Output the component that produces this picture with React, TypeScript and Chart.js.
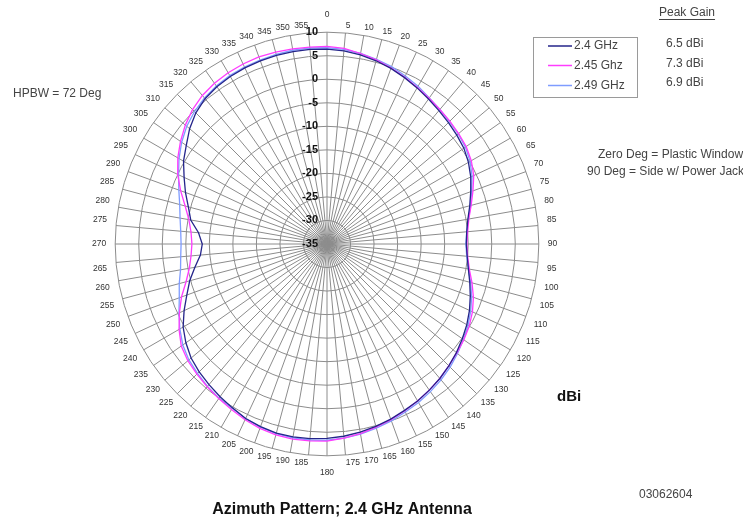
import { useEffect, useRef } from 'react';
import { Chart, registerables } from 'chart.js';

Chart.register(...registerables);

const FONT = '"Liberation Sans", Arial, sans-serif';

const angleLabels = [
  '0', '5', '10', '15', '20', '25', '30', '35', '40', '45', '50', '55',
  '60', '65', '70', '75', '80', '85', '90', '95', '100', '105', '110', '115',
  '120', '125', '130', '135', '140', '145', '150', '155', '160', '165', '170', '175',
  '180', '185', '190', '195', '200', '205', '210', '215', '220', '225', '230', '235',
  '240', '245', '250', '255', '260', '265', '270', '275', '280', '285', '290', '295',
  '300', '305', '310', '315', '320', '325', '330', '335', '340', '345', '350', '355',
];

const radialTicks = [-35, -30, -25, -20, -15, -10, -5, 0, 5, 10];

// 2.4 GHz
const gain24 = [
  6.4, 6.2, 5.8, 5.3, 4.7, 4.0, 3.3, 2.6, 2.0, 1.5, 1.0, 0.5,
  -0.3, -1.3, -2.5, -3.6, -4.6, -5.2, -5.4, -5.1, -4.5, -3.6, -2.6, -1.6,
  -0.7, 0.1, 0.9, 1.6, 2.3, 2.9, 3.5, 4.0, 4.6, 5.1, 5.6, 6.0,
  6.3, 6.5, 6.6, 6.6, 6.3, 5.9, 5.2, 4.6, 4.0, 3.4, 2.7, 1.6,
  0.3, -1.5, -3.3, -4.8, -6.5, -8.0, -8.5, -7.6, -5.6, -4.5, -3.0, -1.5,
  0.2, 1.5, 3.1, 4.4, 5.3, 5.8, 6.1, 6.3, 6.4, 6.5, 6.5, 6.5,
];

// 2.45 GHz
const gain245 = [
  7.0, 6.7, 6.1, 5.5, 4.8, 4.1, 3.4, 2.8, 2.3, 1.9, 1.5, 1.1,
  0.4, -0.6, -2.0, -3.3, -4.4, -5.0, -5.3, -5.0, -4.3, -3.1, -1.9, -0.9,
  -0.1, 0.5, 1.0, 1.6, 2.3, 2.9, 3.5, 4.1, 4.7, 5.3, 5.9, 6.4,
  6.9, 7.0, 7.1, 7.0, 6.7, 6.2, 5.6, 5.1, 4.6, 4.1, 3.6, 2.8,
  1.3, -0.4, -2.1, -4.0, -5.3, -6.0, -6.3, -6.0, -5.2, -3.8, -1.9, 0.0,
  1.6, 3.0, 4.3, 5.4, 6.2, 6.7, 7.0, 7.2, 7.3, 7.2, 7.1, 7.0,
];

// 2.49 GHz
const gain249 = [
  6.7, 6.5, 6.1, 5.6, 5.1, 4.4, 3.7, 2.9, 2.3, 1.8, 1.4, 0.9,
  0.1, -1.0, -2.3, -3.4, -4.5, -5.2, -5.5, -5.2, -4.5, -3.4, -2.3, -1.3,
  -0.4, 0.4, 1.2, 2.0, 2.7, 3.3, 3.9, 4.4, 5.0, 5.5, 6.0, 6.4,
  6.7, 6.8, 6.8, 6.7, 6.4, 5.9, 5.3, 5.0, 4.5, 3.9, 3.3, 2.4,
  1.1, -0.3, -1.6, -2.5, -3.4, -3.8, -4.0, -3.8, -3.3, -2.6, -1.5, -0.2,
  1.3, 2.7, 3.9, 4.8, 5.5, 6.0, 6.3, 6.5, 6.6, 6.7, 6.8, 6.8,
];

const seriesNames = ['2.4 GHz', '2.45 Ghz', '2.49 GHz'];
const seriesColors = ['#24248a', '#ff3cff', '#7f9cff'];
const peakGains = ['6.5 dBi', '7.3 dBi', '6.9 dBi'];

const annotationPlugin = {
  id: 'annotations',
  afterDraw(chart: any) {
    const ctx = chart.ctx as CanvasRenderingContext2D;
    const r = chart.scales.r;
    ctx.save();

    // radial tick labels, right-aligned just left of the 0 deg spoke
    ctx.fillStyle = '#111';
    ctx.font = `bold 11px ${FONT}`;
    ctx.textAlign = 'right';
    ctx.textBaseline = 'middle';
    for (const v of radialTicks) {
      const p = r.getPointPositionForValue(0, v);
      ctx.fillText(String(v), p.x - 9, p.y);
    }

    // legend box
    ctx.strokeStyle = '#9a9a9a';
    ctx.lineWidth = 1;
    ctx.strokeRect(533.5, 37.5, 104, 60);
    const rowsY = [46, 65.5, 85.5];
    ctx.font = `12px ${FONT}`;
    ctx.textAlign = 'left';
    chart.data.datasets.forEach((ds: any, i: number) => {
      ctx.strokeStyle = ds.borderColor;
      ctx.lineWidth = 1.5;
      ctx.beginPath();
      ctx.moveTo(548, rowsY[i]);
      ctx.lineTo(572, rowsY[i]);
      ctx.stroke();
      ctx.fillStyle = '#444';
      ctx.fillText(ds.label, 574, rowsY[i]);
    });

    // peak gain
    ctx.fillStyle = '#444';
    ctx.fillText('Peak Gain', 659, 13);
    const w = ctx.measureText('Peak Gain').width;
    ctx.strokeStyle = '#444';
    ctx.lineWidth = 1;
    ctx.beginPath();
    ctx.moveTo(659, 19.5);
    ctx.lineTo(659 + w, 19.5);
    ctx.stroke();
    peakGains.forEach((t, i) => ctx.fillText(t, 666, [44, 63.5, 83][i]));

    ctx.fillText('HPBW = 72 Deg', 13, 94);
    ctx.fillText('Zero Deg = Plastic Window', 598, 155);
    ctx.fillText('90 Deg = Side w/ Power Jack', 587, 172);
    ctx.fillText('03062604', 639, 495);

    ctx.fillStyle = '#111';
    ctx.font = `bold 15px ${FONT}`;
    ctx.fillText('dBi', 557, 397);

    ctx.font = `bold 16px ${FONT}`;
    ctx.textAlign = 'center';
    ctx.fillText('Azimuth Pattern; 2.4 GHz Antenna', 342, 510);

    ctx.restore();
  },
};

export default function App() {
  const ref = useRef<HTMLCanvasElement | null>(null);

  useEffect(() => {
    if (!ref.current) return;
    const chart = new Chart(ref.current, {
      type: 'radar',
      data: {
        labels: angleLabels,
        datasets: [
          { label: seriesNames[0], data: gain24, borderColor: seriesColors[0] },
          { label: seriesNames[1], data: gain245, borderColor: seriesColors[1] },
          { label: seriesNames[2], data: gain249, borderColor: seriesColors[2] },
        ],
      },
      options: {
        animation: false,
        responsive: false,
        layout: { padding: { left: 50, right: 139, top: 10, bottom: 44 } },
        elements: {
          line: { borderWidth: 1.3, tension: 0, fill: false },
          point: { radius: 0, hoverRadius: 0 },
        },
        plugins: {
          legend: { display: false },
          tooltip: { enabled: false },
          title: { display: false },
        },
        scales: {
          r: {
            min: -35,
            max: 10,
            startAngle: 0,
            beginAtZero: false,
            ticks: { display: false, stepSize: 5 },
            grid: { circular: true, color: '#8c8c8c', lineWidth: 1 },
            angleLines: { display: true, color: '#8c8c8c', lineWidth: 1 },
            pointLabels: {
              color: '#333',
              font: { size: 8.5, family: FONT },
              padding: (c: any) => {
                const i = c.index;
                if (i === 0 || i === 36) return 12;
                const a = (i * 5 * Math.PI) / 180;
                const s = Math.sin(a);
                return 2.5 + 6.5 * s * s;
              },
            },
          },
        },
      } as any,
      plugins: [annotationPlugin],
    });
    return () => chart.destroy();
  }, []);

  return (
    <div style={{ position: 'absolute', left: 0, top: 0, width: 743, height: 522, background: '#fff' }}>
      <canvas ref={ref} width={743} height={522} style={{ display: 'block' }} />
    </div>
  );
}
